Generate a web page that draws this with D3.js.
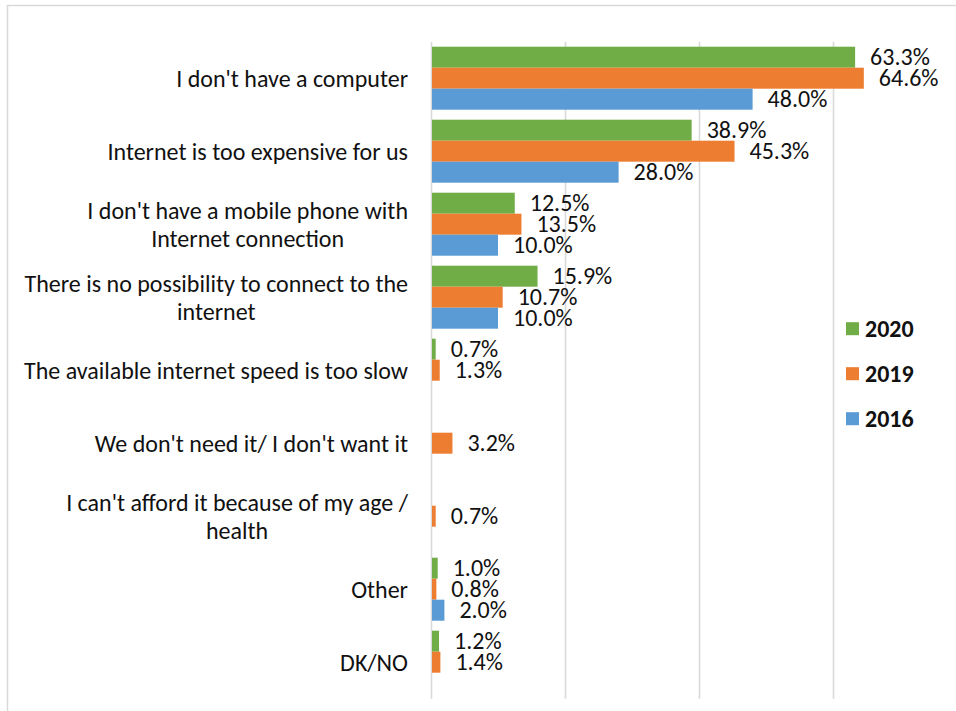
<!DOCTYPE html>
<html>
<head>
<meta charset="utf-8">
<script src="https://cdn.jsdelivr.net/npm/d3@7"></script>
<style>
  html, body { margin: 0; padding: 0; background: #fff; }
  svg { display: block; }
  text { font-family: Carlito, Calibri, Lato, sans-serif; }
</style>
</head>
<body>
<svg id="chart" width="956" height="711"></svg>
<script>
// Reasons for having no internet access at home, by survey year (%)
const categories = [
  "I don't have a computer",
  "Internet is too expensive for us",
  "I don't have a mobile phone with\nInternet connection",
  "There is no possibility to connect to the\ninternet",
  "The available internet speed is too slow",
  "We don't need it/ I don't want it",
  "I can't afford it because of my age /\nhealth",
  "Other",
  "DK/NO"
];
const years = ["2020", "2019", "2016"];
const values2020 = [63.3, 38.9, 12.5, 15.9, 0.7, null, null, 1.0, 1.2];
const values2019 = [64.6, 45.3, 13.5, 10.7, 1.3, 3.2, 0.7, 0.8, 1.4];
const values2016 = [48.0, 28.0, 10.0, 10.0, null, null, null, 2.0, null];
const xTicks = [0, 20, 40, 60, 80];
const colors = { "2020": "#70AD47", "2019": "#ED7D31", "2016": "#5B9BD5" };

const seriesByYear = { "2020": values2020, "2019": values2019, "2016": values2016 };
const rows = [];
categories.forEach((c, i) => {
  years.forEach(yr => {
    const v = seriesByYear[yr][i];
    if (v !== null) rows.push({ category: c, year: yr, value: v });
  });
});

const svg = d3.select("#chart");
const plotTop = 41.7, plotBottom = 698.7;
const fontSize = 24;

const x = d3.scaleLinear().domain([0, 80]).range([431, 967]);
const y = d3.scaleBand().domain(categories).range([plotTop, plotBottom])
  .paddingInner(10 / 73).paddingOuter(5 / 73);
const ySub = d3.scaleBand().domain(years).range([0, y.bandwidth()]);

// chart frame
svg.append("path")
  .attr("d", "M7.5,711 V5.5 H956")
  .attr("fill", "none").attr("stroke", "#d9d9d9").attr("stroke-width", 1.5);

// vertical gridlines (including the zero line)
const grid = svg.append("g")
  .attr("transform", `translate(0,${plotTop})`)
  .call(d3.axisTop(x).tickValues(xTicks).tickSize(-(plotBottom - plotTop)).tickFormat(""));
grid.select(".domain").remove();
grid.selectAll(".tick line").attr("stroke", "#d9d9d9").attr("stroke-width", 1.6);

// bars
svg.append("g").selectAll("rect")
  .data(rows)
  .join("rect")
  .attr("x", x(0) + 1)
  .attr("y", d => y(d.category) + ySub(d.year))
  .attr("width", d => x(d.value) - x(0) - 1)
  .attr("height", ySub.bandwidth())
  .attr("fill", d => colors[d.year]);

// value labels
svg.append("g").selectAll("text")
  .data(rows)
  .join("text")
  .attr("x", d => x(d.value) + 15)
  .attr("y", d => y(d.category) + ySub(d.year) + ySub.bandwidth() / 2 + 8)
  .attr("font-size", fontSize)
  .attr("fill", "#111")
  .text(d => d.value.toFixed(1) + "%");

// category labels, centred block right-aligned to the axis
const labelRight = 408, lineH = 28;
const catG = svg.append("g");
categories.forEach(c => {
  const lines = c.split("\n");
  const t = catG.append("text").attr("font-size", fontSize).attr("fill", "#111")
    .attr("text-anchor", "middle");
  const cy = y(c) + y.bandwidth() / 2;
  const spans = lines.map((ln, k) =>
    t.append("tspan")
      .attr("y", cy + 8.5 + (k - (lines.length - 1) / 2) * lineH)
      .text(ln));
  const maxW = d3.max(spans, s => s.node().getComputedTextLength());
  spans.forEach(s => s.attr("x", labelRight - maxW / 2));
});

// legend
const legend = svg.append("g");
const legendY = [328.7, 373.7, 418.7];
years.forEach((yr, i) => {
  legend.append("rect")
    .attr("x", 846).attr("y", legendY[i] - 6.5)
    .attr("width", 13).attr("height", 13)
    .attr("fill", colors[yr]);
  legend.append("text")
    .attr("x", 865).attr("y", legendY[i] + 8)
    .attr("font-size", fontSize).attr("font-weight", "bold").attr("fill", "#111")
    .text(yr);
});
</script>
</body>
</html>
